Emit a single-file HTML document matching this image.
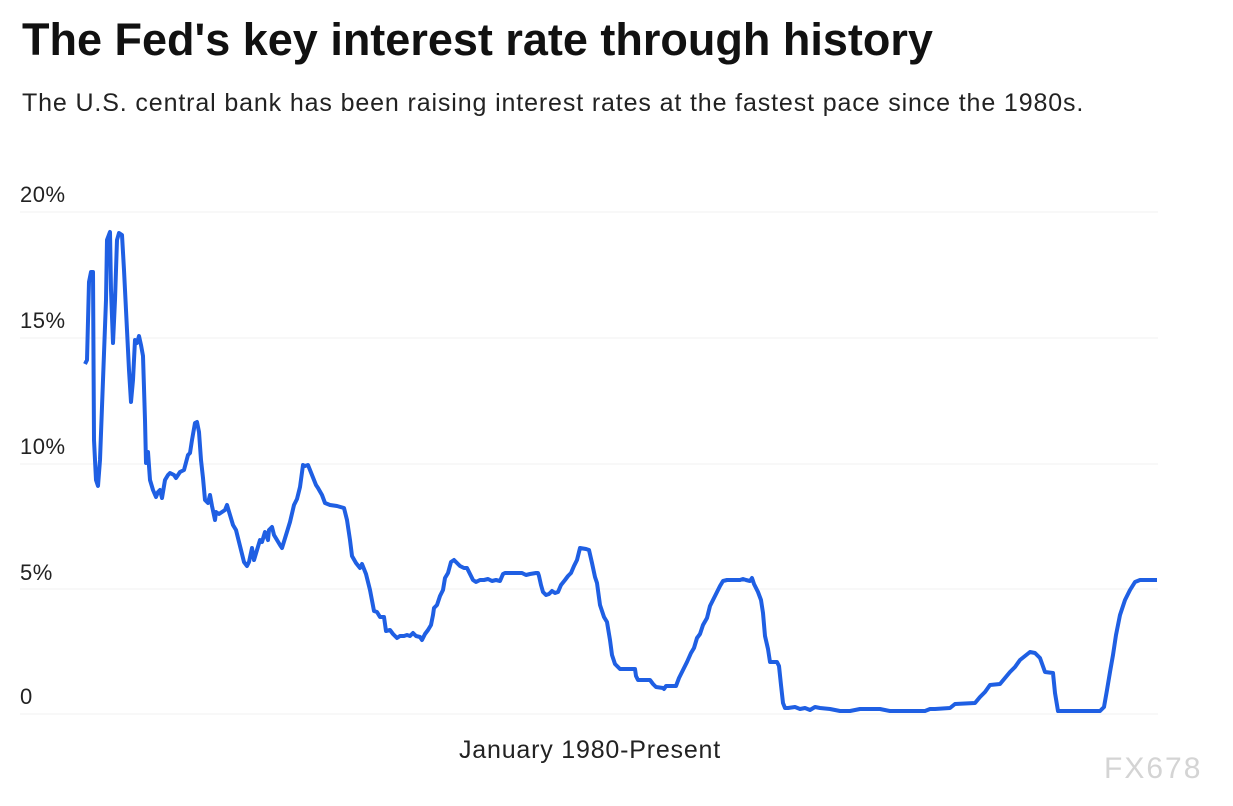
<!DOCTYPE html>
<html><head><meta charset="utf-8"><style>
body{margin:0;width:1233px;height:806px;background:#fff;font-family:"Liberation Sans",sans-serif;overflow:hidden;position:relative}
.t{position:absolute;left:22px;top:14px;font-size:45px;font-weight:bold;color:#111;letter-spacing:0px}
.s{position:absolute;left:22px;top:89px;font-size:25px;color:#222;letter-spacing:0.87px}
.y{position:absolute;left:20px;font-size:22px;color:#222;letter-spacing:0.5px}
.x{position:absolute;left:459px;top:736px;font-size:25px;color:#222;letter-spacing:0.8px}
.w{position:absolute;left:1104px;top:752px;font-size:30px;color:#d4d4d4;letter-spacing:2px}
</style></head><body>
<div class="t">The Fed's key interest rate through history</div>
<div class="s">The U.S. central bank has been raising interest rates at the fastest pace since the 1980s.</div>
<div class="y" style="top:182px">20%</div>
<div class="y" style="top:308px">15%</div>
<div class="y" style="top:434px">10%</div>
<div class="y" style="top:560px">5%</div>
<div class="y" style="top:684px">0</div>
<svg width="1233" height="806" style="position:absolute;left:0;top:0">
<g stroke="#f1f1f1" stroke-width="1">
<line x1="20" x2="1158" y1="212" y2="212"/><line x1="20" x2="1158" y1="338" y2="338"/><line x1="20" x2="1158" y1="464" y2="464"/><line x1="20" x2="1158" y1="589" y2="589"/><line x1="20" x2="1158" y1="714" y2="714"/>
</g>
<polyline fill="none" stroke="#1f5fe3" stroke-width="4" stroke-linejoin="round" points="85,364 87,360 89,282 91,272 93,272 94,440 96,480 98,486 100,460 103,380 106,300 107,240 110,232 111,290 113,343 115,300 117,240 119,233 122,235 124,270 127,330 129,370 131,402 133,380 135,340 137,343 139,336 141,345 143,356 145,420 146,463 148,452 150,480 153,490 156,497 158,492 160,490 162,498 165,480 168,475 170,473 174,475 176,478 180,472 184,470 188,455 190,453 192,440 195,423 197,422 199,432 201,460 203,478 205,500 208,503 210,495 212,506 215,520 216,512 219,514 222,512 225,510 227,505 230,515 233,525 236,530 238,538 241,550 244,562 247,566 249,562 252,548 254,560 257,550 260,540 262,542 265,532 268,540 269,530 272,527 274,535 277,540 280,545 282,548 286,535 290,522 294,505 297,499 300,487 303,465 305,466 308,465 312,475 316,485 318,488 322,495 325,503 330,505 337,506 344,508 347,520 350,540 352,556 356,563 360,568 362,564 366,574 370,590 374,611 377,612 380,617 384,617 386,631 390,630 393,634 397,638 400,636 404,636 407,635 410,636 413,633 416,636 420,637 422,640 425,634 428,630 431,625 433,615 434,608 437,605 440,596 443,590 445,578 448,573 451,562 454,560 458,564 460,566 464,568 467,568 470,574 473,580 476,582 480,580 484,580 488,579 492,581 496,580 500,581 503,574 505,573 510,573 520,573 522,573 526,575 530,574 536,573 538,573 539,576 541,585 543,592 546,595 549,594 552,591 555,593 558,592 561,585 565,580 568,576 571,573 574,566 577,560 579,552 580,548 586,549 589,550 592,563 595,577 597,583 600,605 604,617 607,622 610,640 612,655 615,664 620,669 635,669 636,676 638,680 650,680 653,684 656,687 663,688 664,689 666,686 676,686 679,678 683,670 687,662 691,653 694,648 697,638 700,634 703,625 707,618 710,606 714,598 718,590 720,586 723,581 727,580 740,580 743,579 746,580 750,581 752,578 754,584 758,592 761,600 763,613 765,636 768,649 770,662 777,662 779,666 781,685 783,703 785,708 788,708 795,707 800,709 805,708 810,710 815,707 820,708 830,709 840,711 850,711 860,709 880,709 890,711 925,711 930,709 935,709 950,708 955,704 975,703 980,697 985,692 990,685 1000,684 1005,678 1010,672 1015,667 1020,660 1025,656 1030,652 1035,653 1040,658 1045,672 1053,673 1055,693 1058,711 1100,711 1104,707 1107,690 1110,672 1113,655 1116,635 1120,615 1125,600 1130,590 1135,582 1140,580 1157,580"/>
</svg>
<div class="x">January 1980-Present</div>
<div class="w">FX678</div>
</body></html>
